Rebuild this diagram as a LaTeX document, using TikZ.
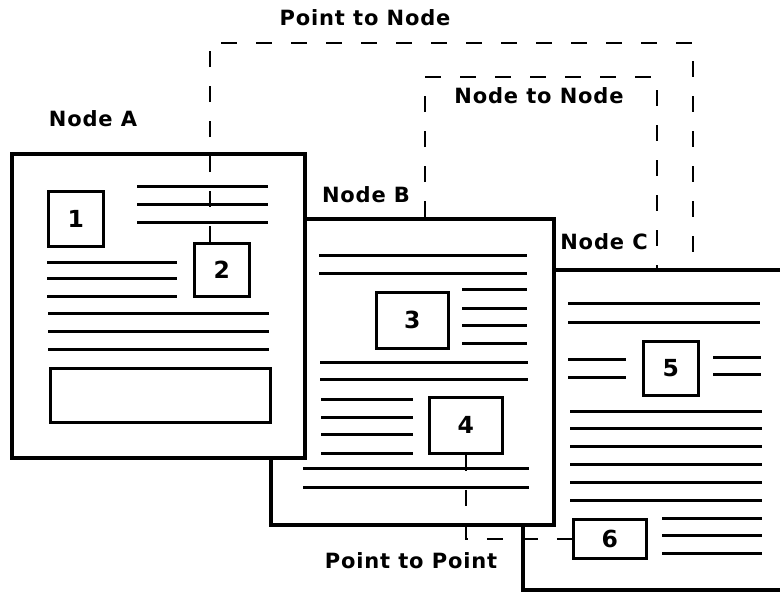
\documentclass[tikz,border=0pt]{standalone}
\usepackage{fontspec}
\newfontfamily\labelfont[LetterSpace=4]{DejaVu Sans}
\begin{document}
\begin{tikzpicture}[x=1pt,y=-1pt,
  page/.style={draw, fill=white, line width=4pt, inner sep=0pt, anchor=north west},
  numbox/.style={draw, fill=white, line width=2.8pt, inner sep=0pt, anchor=north west,
    font=\labelfont\bfseries\fontsize{23.5}{25}\selectfont},
  textline/.style={line width=3pt},
  conn/.style={line width=2.4pt, dash pattern=on 16pt off 19pt},
  lab/.style={inner sep=0pt, font=\labelfont\bfseries\fontsize{21}{23}\selectfont}]
\useasboundingbox (0,0) rectangle (780,592);
\clip (0,0) rectangle (780,592);

% ---- page C (back) ----
\node[page, minimum width=290, minimum height=320] (pC) at (521,268) {};
\foreach \y in {303,322} \draw[textline] (568,\y) -- (760,\y);
\node[numbox, minimum width=55, minimum height=54] (b5) at (642,340) {5};
\foreach \y in {359,377} \draw[textline] (568,\y) -- (626,\y);
\foreach \y in {357,374} \draw[textline] (713,\y) -- (761,\y);
\foreach \y in {411,428,446,464,482,500} \draw[textline] (570,\y) -- (762,\y);
\node[numbox, minimum width=73, minimum height=39] (b6) at (572,518) {6};
\foreach \y in {518,535,553} \draw[textline] (662,\y) -- (762,\y);

% ---- page B (middle) ----
\node[page, minimum width=283, minimum height=306] (pB) at (269,217) {};
\foreach \y in {255,273} \draw[textline] (319,\y) -- (527,\y);
\node[numbox, minimum width=72, minimum height=56] (b3) at (375,291) {3};
\foreach \y in {289,308,325,343} \draw[textline] (462,\y) -- (527,\y);
\foreach \y in {362,379} \draw[textline] (320,\y) -- (528,\y);
\foreach \y in {399,417,434,453} \draw[textline] (321,\y) -- (413,\y);
\node[numbox, minimum width=73, minimum height=56] (b4) at (428,396) {4};
\foreach \y in {468,487} \draw[textline] (303,\y) -- (529,\y);

% ---- page A (front) ----
\node[page, minimum width=293, minimum height=304] (pA) at (10,152) {};
\foreach \y in {186,204,222} \draw[textline] (137,\y) -- (268,\y);
\node[numbox, minimum width=55, minimum height=55] (b1) at (47,190) {1};
\node[numbox, minimum width=55, minimum height=53] (b2) at (193,242) {2};
\foreach \y in {262,278,296} \draw[textline] (47,\y) -- (177,\y);
\foreach \y in {313,331,349} \draw[textline] (48,\y) -- (269,\y);
\node[numbox, minimum width=220, minimum height=54] (bA) at (49,367) {};

% ---- labels ----
\node[lab] (lA)  at (93,119)  {Node A};
\node[lab] (lB)  at (366,195) {Node B};
\node[lab] (lC)  at (604,242) {Node C};
\node[lab] (lpn) at (365,18)  {Point to Node};
\node[lab] (lnn) at (539,96)  {Node to Node};
\node[lab] (lpp) at (411,561) {Point to Point};

% ---- link paths ----
\coordinate (pn1) at (210,43);
\coordinate (pn2) at (693,43);
\draw[conn] (b2.north -| pn1) -- (pn1) -- (pn2) -- (pn2 |- pC.north);
\coordinate (nn1) at (425,77);
\coordinate (nn2) at (657,77);
\draw[conn] (pB.north -| nn1) -- (nn1) -- (nn2) -- (nn2 |- pC.north);
\draw[conn] (b4.south) |- (b6.west);
\end{tikzpicture}
\end{document}
